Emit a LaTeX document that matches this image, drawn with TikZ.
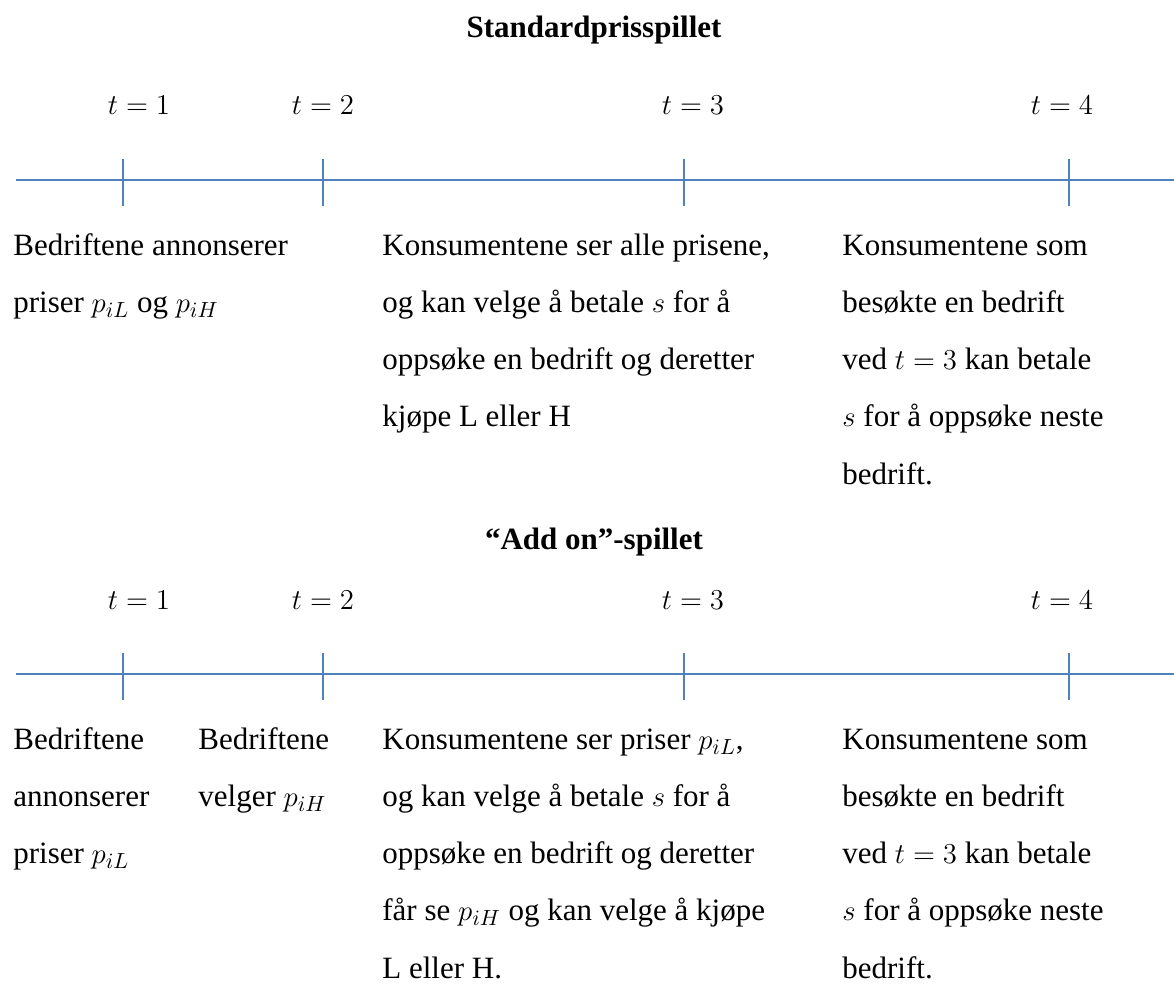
\documentclass[tikz,border=0pt]{standalone}
\usepackage{fontspec}
\setmainfont{Liberation Serif}
\definecolor{axisblue}{RGB}{79,129,189}
\begin{document}
\begin{tikzpicture}[x=0.5pt,y=-0.5pt,
  txt/.style={anchor=base west, inner sep=0pt, align=left, font=\fontsize{15.5}{28.65}\selectfont},
  tlab/.style={anchor=base, inner sep=0pt, font=\fontsize{15.5}{18}\selectfont},
  ttl/.style={anchor=base, inner sep=0pt, font=\fontsize{15.5}{18}\selectfont\bfseries},
  axisline/.style={draw=axisblue, line width=1pt},
  tickmark/.style={draw=axisblue, line width=1pt}]
\useasboundingbox[fill=white] (0,0) rectangle (1174,990);

% ---------- Standardprisspillet ----------
\node[ttl] (title1) at (594,38) {Standardprisspillet};
\node[tlab] (ta1) at (139,115) {$t=1$};
\node[tlab] (ta2) at (323,115) {$t=2$};
\node[tlab] (ta3) at (693,115) {$t=3$};
\node[tlab] (ta4) at (1062,115) {$t=4$};

\coordinate (As) at (16,180);
\coordinate (Ae) at (1174,180);
\coordinate (A1) at (123,180);
\coordinate (A2) at (323,180);
\coordinate (A3) at (684,180);
\coordinate (A4) at (1069,180);
\draw[axisline] (As) -- (Ae);
\foreach \p in {A1,A2,A3,A4}
  \draw[tickmark] (\p) ++(0,-21) -- ++(0,47);

% (base anchor of a multi-line node = baseline of its last line)
\node[txt] (a1) at (13,312.3) {Bedriftene annonserer\\priser $p_{iL}$ og $p_{iH}$};
\node[txt] (a2) at (382,426.9) {Konsumentene ser alle prisene,\\og kan velge å betale $s$ for å\\oppsøke en bedrift og deretter\\kjøpe L eller H};
\node[txt] (a3) at (842,484.2) {Konsumentene som\\besøkte en bedrift\\ved $t = 3$ kan betale\\$s$ for å oppsøke neste\\bedrift.};

% ---------- Add on ----------
\node[ttl] (title2) at (594,549) {“Add on”-spillet};
\node[tlab] (tb1) at (139,609) {$t=1$};
\node[tlab] (tb2) at (323,609) {$t=2$};
\node[tlab] (tb3) at (693,609) {$t=3$};
\node[tlab] (tb4) at (1062,609) {$t=4$};

\coordinate (Bs) at (16,674);
\coordinate (Be) at (1174,674);
\coordinate (B1) at (123,674);
\coordinate (B2) at (323,674);
\coordinate (B3) at (684,674);
\coordinate (B4) at (1069,674);
\draw[axisline] (Bs) -- (Be);
\foreach \p in {B1,B2,B3,B4}
  \draw[tickmark] (\p) ++(0,-21) -- ++(0,47);

\node[txt] (b1) at (13,863.6) {Bedriftene\\annonserer\\priser $p_{iL}$};
\node[txt] (b1b) at (198,806.3) {Bedriftene\\velger $p_{iH}$};
\node[txt] (b2) at (382,978.2) {Konsumentene ser priser $p_{iL}$,\\og kan velge å betale $s$ for å\\oppsøke en bedrift og deretter\\får se $p_{iH}$ og kan velge å kjøpe\\L eller H.};
\node[txt] (b3) at (842,978.2) {Konsumentene som\\besøkte en bedrift\\ved $t = 3$ kan betale\\$s$ for å oppsøke neste\\bedrift.};
\end{tikzpicture}
\end{document}
